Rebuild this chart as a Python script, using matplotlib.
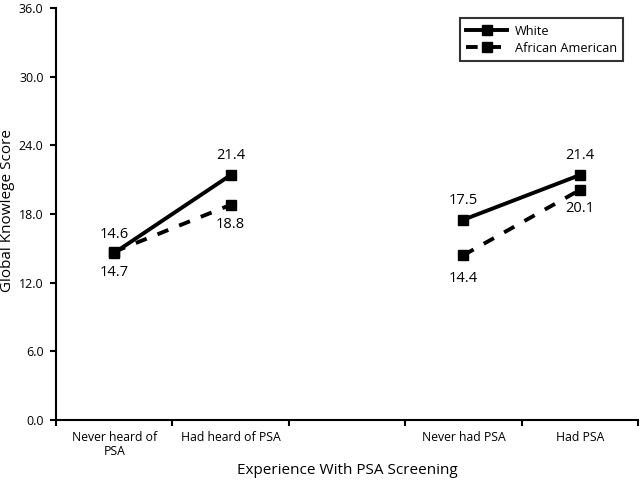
import matplotlib
matplotlib.use("Agg")
import matplotlib.pyplot as plt
from matplotlib.ticker import FixedLocator, NullFormatter

categories = ["Never heard of\nPSA", "Had heard of PSA", "", "Never had PSA", "Had PSA"]
white_group1 = [14.6, 21.4]
aa_group1 = [14.7, 18.8]
white_group2 = [17.5, 21.4]
aa_group2 = [14.4, 20.1]
yticks = [0, 6, 12, 18, 24, 30, 36]

plt.rcParams['font.family'] = ['Open Sans', 'DejaVu Sans']

W, H = 640, 482
fig = plt.figure(figsize=(6.4, 4.82), dpi=100)
left, right, top, bottom = 56, 638, 8, 420
ax = fig.add_axes([left / W, 1 - bottom / H, (right - left) / W, (bottom - top) / H])

x1 = [0, 1]
x2 = [3, 4]
lw = 2.8
ms = 7
dash = (0, (3.0, 3.0))
ax.plot(x1, white_group1, color='black', lw=lw, marker='s', ms=ms, label='White')
ax.plot(x2, white_group2, color='black', lw=lw, marker='s', ms=ms)
ax.plot(x1, aa_group1, color='black', lw=lw, ls=dash, marker='s', ms=ms, label='African American')
ax.plot(x2, aa_group2, color='black', lw=lw, ls=dash, marker='s', ms=ms)

fs = 10.5
def lab(x, y, dy):
    ax.annotate(f"{y:.1f}", (x, y), xytext=(0, dy), textcoords='offset points',
                ha='center', va='center', fontsize=fs)

lab(0, white_group1[0], 13)
lab(1, white_group1[1], 14)
lab(3, white_group2[0], 14)
lab(4, white_group2[1], 14)
lab(0, aa_group1[0], -15)
lab(1, aa_group1[1], -14)
lab(3, aa_group2[0], -17)
lab(4, aa_group2[1], -13)

ax.set_xlim(-0.5, 4.5)
ax.set_ylim(0, 36)
ax.set_yticks(yticks)
ax.set_yticklabels([f"{v:.1f}" for v in yticks], fontsize=9)
ax.xaxis.set_major_locator(FixedLocator([-0.5, 0.5, 1.5, 2.5, 3.5, 4.5]))
ax.xaxis.set_major_formatter(NullFormatter())
ax.xaxis.set_minor_locator(FixedLocator([0, 1, 2, 3, 4]))
ax.set_xticklabels(categories, minor=True, fontsize=8.8, linespacing=1.1)
ax.tick_params(axis='x', which='minor', length=0, pad=8)
ax.tick_params(axis='x', which='major', length=4, width=1.5, direction='out')
ax.tick_params(axis='y', length=4, width=1.5, direction='out', pad=5)
for s in ['top', 'right']:
    ax.spines[s].set_visible(False)
for s in ['left', 'bottom']:
    ax.spines[s].set_linewidth(1.5)

fig.text((left + right) / 2 / W, 1 - 470 / H, "Experience With PSA Screening",
         ha='center', va='center', fontsize=11)
fig.text(8 / W, 1 - 210 / H, "Global Knowlege Score", rotation=90,
         ha='center', va='center', fontsize=11)

leg = ax.legend(loc='upper right', bbox_to_anchor=(0.975, 0.975), fontsize=9.2,
                frameon=True, fancybox=False, edgecolor='black', handlelength=3.2,
                borderpad=0.5, labelspacing=0.3, handletextpad=0.6, borderaxespad=0)
leg.get_frame().set_linewidth(1.5)

fig.savefig("out.png", dpi=100)
